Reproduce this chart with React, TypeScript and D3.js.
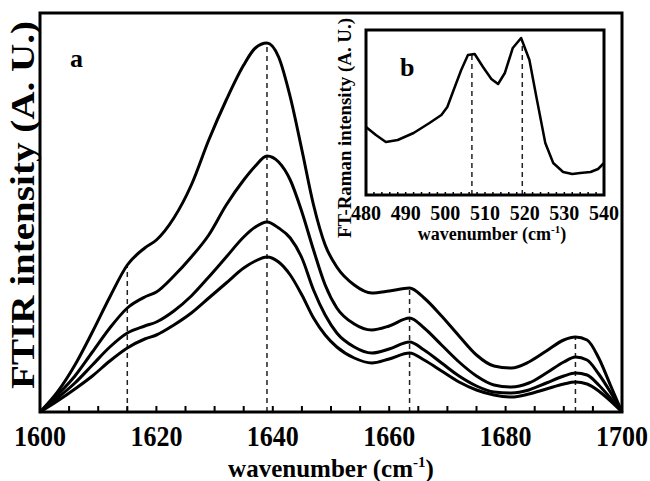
import React from "react";
import * as d3 from "d3";

// Main FTIR panel (a)
const waves = [1600, 1603, 1606, 1609, 1612, 1615, 1618, 1620, 1623, 1626, 1629, 1632, 1635, 1637, 1639, 1641, 1643, 1645, 1647, 1649, 1651, 1654, 1657, 1660, 1663.5, 1666, 1669, 1672, 1675, 1678, 1681, 1684, 1687, 1690, 1692, 1694, 1696, 1698, 1700];
const curve1 = [0, 20, 47, 80, 115, 147, 164, 172, 194, 227, 272, 312, 347, 364, 369, 355, 315, 262, 207, 167, 145, 127, 119, 121, 124, 114, 96, 76, 57, 46, 44, 50, 61, 72, 75, 72, 54, 27, 0];
const curve2 = [0, 17, 36, 60, 84, 104, 115, 120, 136, 155, 177, 207, 232, 246, 256, 250, 232, 200, 162, 127, 104, 88, 82, 86, 94, 84, 67, 50, 36, 27, 25, 29, 39, 50, 55, 52, 38, 20, 0];
const curve3 = [0, 14, 29, 47, 65, 79, 86, 90, 101, 116, 135, 155, 175, 185, 190, 184, 174, 154, 122, 97, 79, 65, 59, 63, 70, 62, 49, 36, 26, 20, 19, 22, 29, 36, 39, 37, 27, 14, 0];
const curve4 = [0, 11, 23, 36, 51, 64, 73, 77, 87, 99, 114, 129, 144, 151, 155, 150, 137, 117, 94, 77, 65, 54, 49, 53, 59, 52, 41, 30, 22, 17, 15, 18, 23, 28, 30, 28, 21, 11, 0];
const mainPeaks = [1615, 1639, 1663.5, 1692];
const mainTickLabels = [1600, 1620, 1640, 1660, 1680, 1700];

// Inset FT-Raman panel (b)
const insetWaves = [480, 482.5, 485, 488, 492, 496, 499, 500.5, 502, 504, 505.7, 507.4, 509.5, 511.6, 513.3, 515, 517, 519.1, 521.2, 523.1, 525.2, 527.2, 529.7, 532, 534, 536.6, 538.5, 540];
const insetValues = [68, 60, 53, 55, 62, 72, 80, 88, 104, 125, 140, 141, 128, 116, 111, 122, 147, 157, 135, 95, 52, 32, 23, 21, 22, 23, 26, 32];
const insetPeaks = [506.7, 519.4];
const insetTickLabels = [480, 490, 500, 510, 520, 530, 540];

const FONT = "'Liberation Serif', 'Times New Roman', serif";

function interp(xs: number[], ys: number[], x: number) {
  for (let i = 0; i < xs.length - 1; i++) {
    if (x >= xs[i] && x <= xs[i + 1]) {
      const t = (x - xs[i]) / (xs[i + 1] - xs[i]);
      return ys[i] + t * (ys[i + 1] - ys[i]);
    }
  }
  return ys[ys.length - 1];
}

export default function App() {
  const x = d3.scaleLinear().domain([1600, 1700]).range([40, 622]);
  const y = d3.scaleLinear().domain([0, 399]).range([412, 13]);
  const xi = d3.scaleLinear().domain([480, 540]).range([366, 604]);
  const yi = d3.scaleLinear().domain([0, 165]).range([195, 30]);

  const line = d3
    .line<[number, number]>()
    .x((d) => x(d[0]))
    .y((d) => y(d[1]))
    .curve(d3.curveMonotoneX);
  const lineI = d3
    .line<[number, number]>()
    .x((d) => xi(d[0]))
    .y((d) => yi(d[1]));

  const curves = [curve1, curve2, curve3, curve4];
  const minorTicks = d3.range(1605, 1700, 5);
  const insetMinor = d3.range(482, 540, 2);

  return (
    <svg width={650} height={481} style={{ position: "absolute", left: 0, top: 0, background: "#fff" }}>
      <rect x={0} y={0} width={650} height={481} fill="#fff" />
      {/* dashed peak markers */}
      {mainPeaks.map((p) => (
        <line key={p} x1={x(p)} x2={x(p)} y1={y(0)} y2={y(interp(waves, curve1, p))} stroke="#222" strokeWidth={1.5} strokeDasharray="5,4" />
      ))}
      {curves.map((c, i) => (
        <path key={i} d={line(waves.map((w, j) => [w, c[j]] as [number, number])) || ""} fill="none" stroke="#000" strokeWidth={3} strokeLinejoin="round" />
      ))}
      {/* ticks */}
      {minorTicks.map((t) => (
        <line key={t} x1={x(t)} x2={x(t)} y1={y(0)} y2={y(0) - 6} stroke="#000" strokeWidth={2} />
      ))}
      <rect x={40} y={13} width={582} height={399} fill="none" stroke="#000" strokeWidth={3} />
      {mainTickLabels.map((t) => (
        <text key={t} transform={`translate(${x(t)},446) scale(1,1.1)`} textAnchor="middle" fontFamily={FONT} fontWeight="bold" fontSize={26}>
          {t}
        </text>
      ))}
      <text x={331} y={477} textAnchor="middle" fontFamily={FONT} fontWeight="bold" fontSize={25}>
        wavenumber (cm<tspan fontSize={15} dy={-10}>-1</tspan><tspan dy={10}>)</tspan>
      </text>
      <text transform="translate(34,205) rotate(-90)" textAnchor="middle" fontFamily={FONT} fontWeight="bold" fontSize={33} textLength={368} lengthAdjust="spacingAndGlyphs">
        FTIR intensity (A. U.)
      </text>
      <text x={70} y={67} fontFamily={FONT} fontWeight="bold" fontSize={26}>a</text>

      {/* inset */}
      <rect x={366} y={30} width={238} height={165} fill="#fff" />
      {insetPeaks.map((p) => (
        <line key={p} x1={xi(p)} x2={xi(p)} y1={yi(0)} y2={yi(interp(insetWaves, insetValues, p))} stroke="#222" strokeWidth={1.5} strokeDasharray="5,4" />
      ))}
      <path d={lineI(insetWaves.map((w, j) => [w, insetValues[j]] as [number, number])) || ""} fill="none" stroke="#000" strokeWidth={2.5} strokeLinejoin="round" />
      {insetMinor.map((t) => (
        <line key={t} x1={xi(t)} x2={xi(t)} y1={yi(0)} y2={yi(0) - 3} stroke="#000" strokeWidth={1.5} />
      ))}
      <rect x={366} y={30} width={238} height={165} fill="none" stroke="#000" strokeWidth={3} />
      {insetTickLabels.map((t) => (
        <text key={t} x={xi(t)} y={220} textAnchor="middle" fontFamily={FONT} fontWeight="bold" fontSize={20}>
          {t}
        </text>
      ))}
      <text x={492} y={240} textAnchor="middle" fontFamily={FONT} fontWeight="bold" fontSize={18}>
        wavenumber (cm<tspan fontSize={11} dy={-7}>-1</tspan><tspan dy={7}>)</tspan>
      </text>
      <text transform="translate(351,128) rotate(-90)" textAnchor="middle" fontFamily={FONT} fontWeight="bold" fontSize={19} textLength={220} lengthAdjust="spacingAndGlyphs">
        FT-Raman intensity (A. U.)
      </text>
      <text x={400} y={76} fontFamily={FONT} fontWeight="bold" fontSize={26}>b</text>
    </svg>
  );
}
